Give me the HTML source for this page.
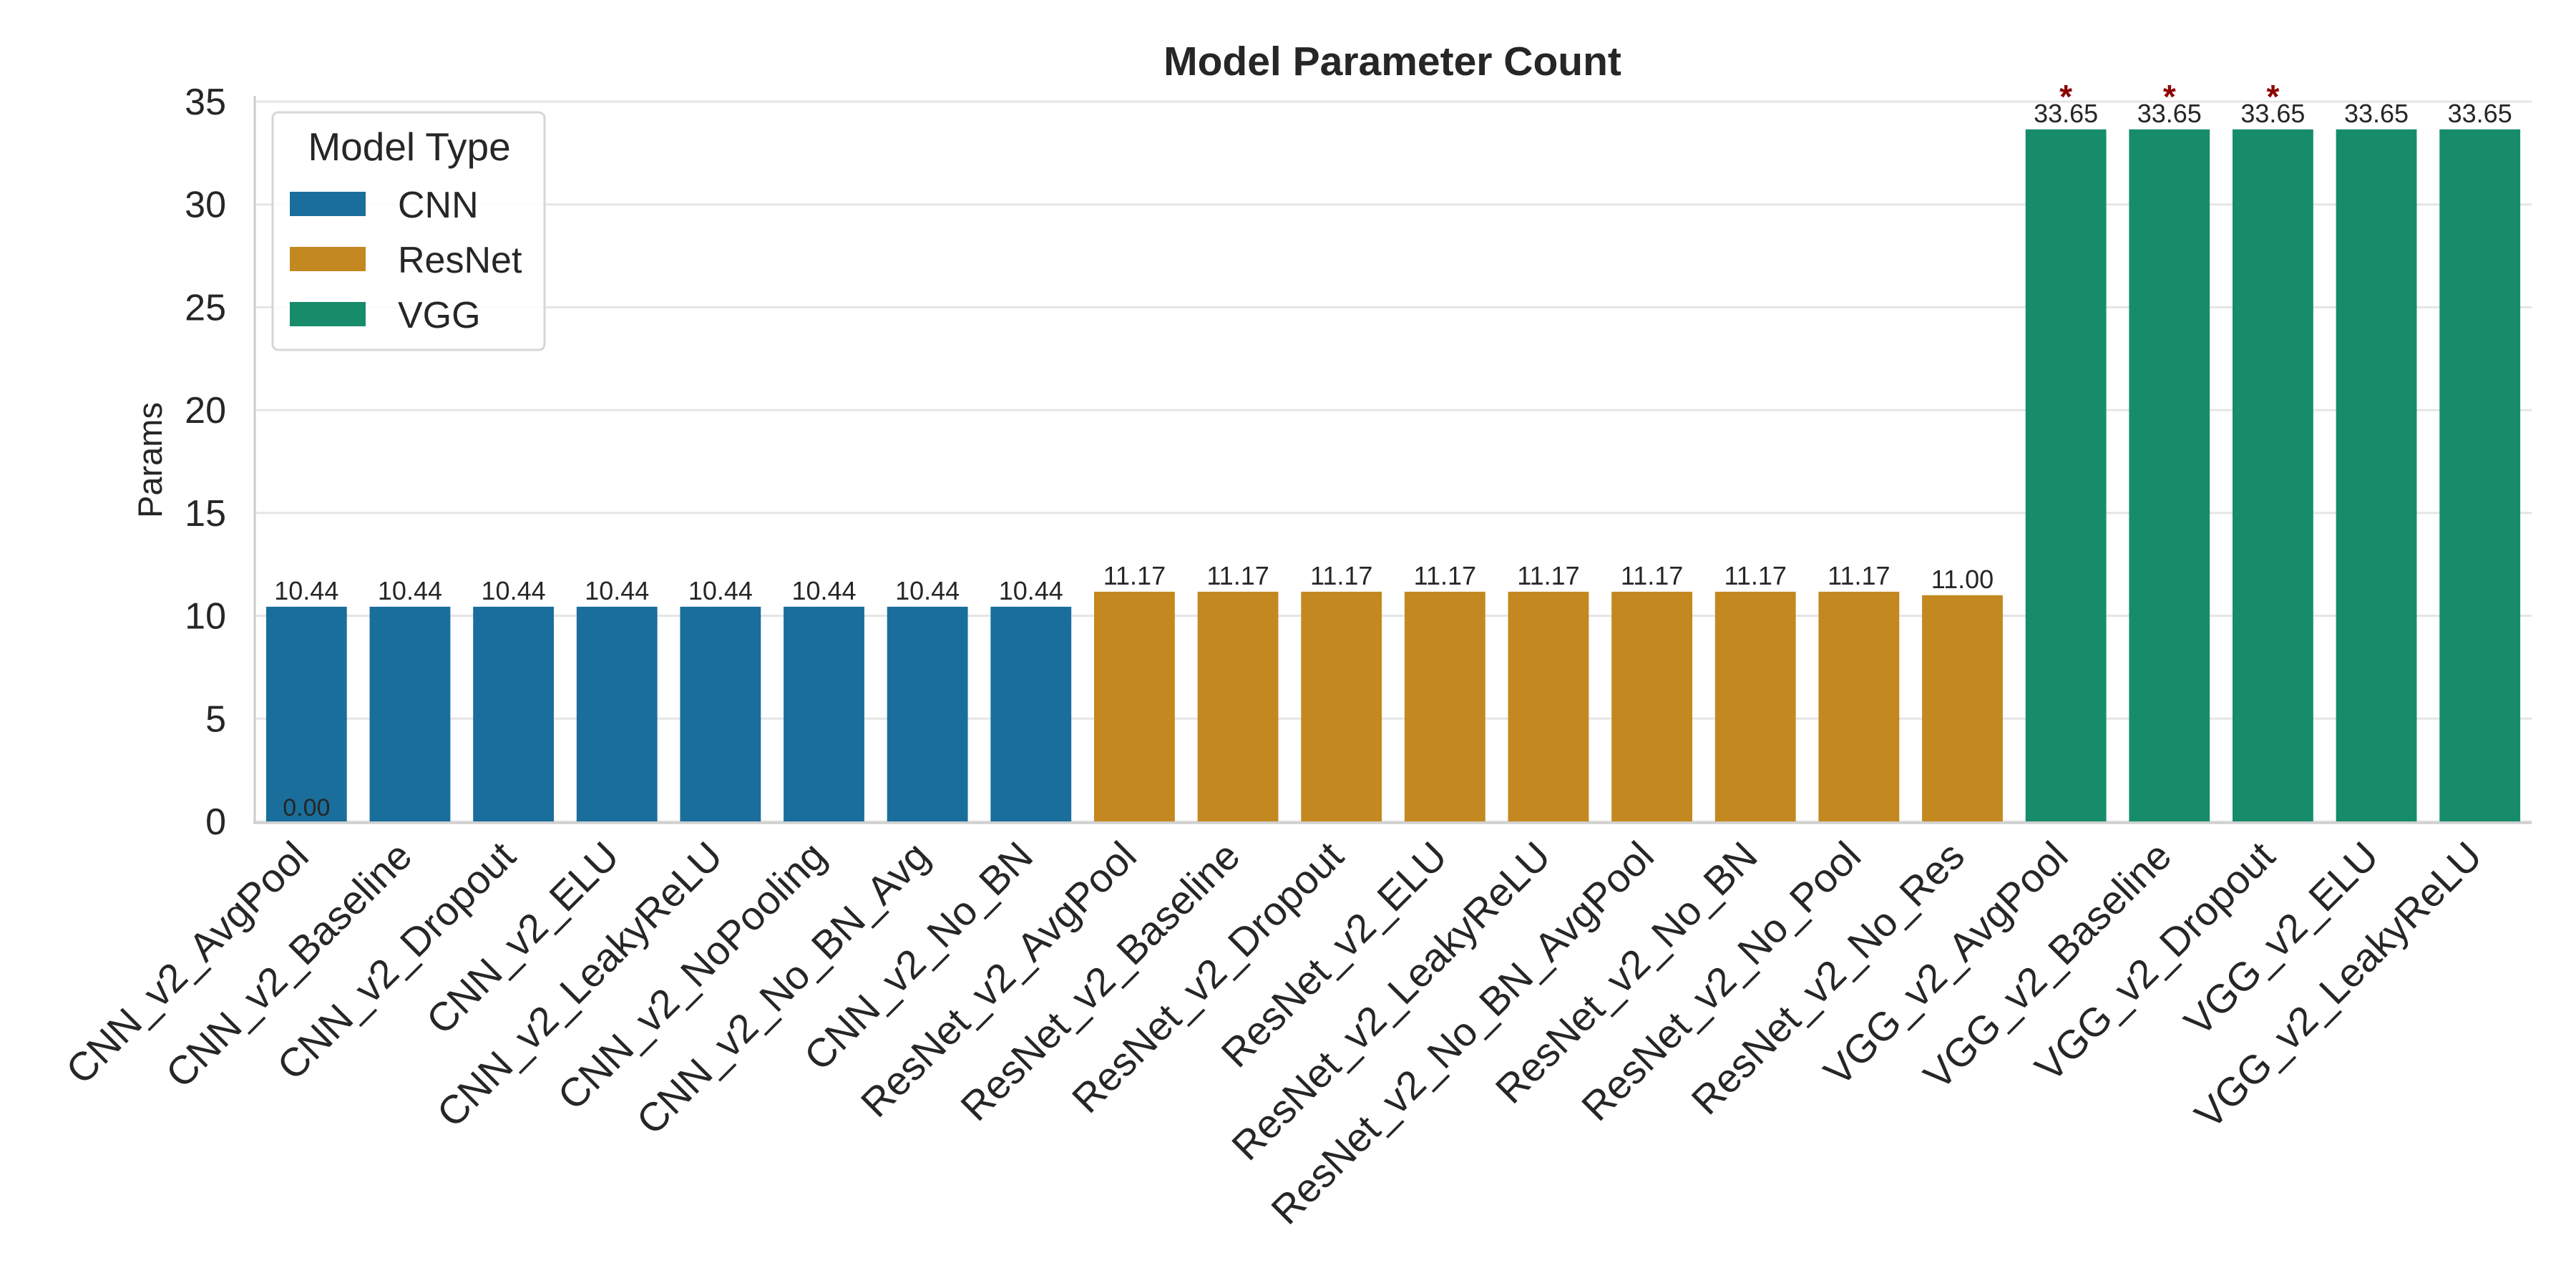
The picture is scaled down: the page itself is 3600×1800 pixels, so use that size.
<!DOCTYPE html>
<html><head><meta charset="utf-8"><style>
html,body{margin:0;padding:0;background:#fff;}
svg{display:block;font-family:"Liberation Sans",Arial,sans-serif;}
</style></head><body>
<svg id="chart" width="3600" height="1800" viewBox="0 0 3600 1800" xmlns="http://www.w3.org/2000/svg">
<rect width="3600" height="1800" fill="#fff"/>
<text x="1946" y="105" text-anchor="middle" font-size="57" font-weight="bold" fill="#262626">Model Parameter Count</text>
<text transform="translate(226,643) rotate(-90)" text-anchor="middle" font-size="47" fill="#262626">Params</text>
<g id="grid"></g><g id="bars"></g><g id="labels"></g><g id="yticks"></g><g id="xticks"></g>
<line x1="356" y1="134" x2="356" y2="1150" stroke="#cccccc" stroke-width="3"/>
<line x1="354" y1="1150" x2="3538" y2="1150" stroke="#cccccc" stroke-width="3"/>
<g>
<rect x="381" y="157" width="380" height="332" rx="8" fill="#fff" fill-opacity="0.85" stroke="#d6d6d6" stroke-width="3"/>
<text x="572" y="224" text-anchor="middle" font-size="55" fill="#262626">Model Type</text>
<rect x="405" y="268" width="106" height="34" fill="#1a6e9c"/>
<text x="556" y="304" font-size="52" fill="#262626">CNN</text>
<rect x="405" y="345" width="106" height="34" fill="#c38820"/>
<text x="556" y="381" font-size="52" fill="#262626">ResNet</text>
<rect x="405" y="422" width="106" height="34" fill="#178c6b"/>
<text x="556" y="458" font-size="52" fill="#262626">VGG</text>
</g>
</svg>
<script>
const names = ["CNN_v2_AvgPool","CNN_v2_Baseline","CNN_v2_Dropout","CNN_v2_ELU","CNN_v2_LeakyReLU","CNN_v2_NoPooling","CNN_v2_No_BN_Avg","CNN_v2_No_BN","ResNet_v2_AvgPool","ResNet_v2_Baseline","ResNet_v2_Dropout","ResNet_v2_ELU","ResNet_v2_LeakyReLU","ResNet_v2_No_BN_AvgPool","ResNet_v2_No_BN","ResNet_v2_No_Pool","ResNet_v2_No_Res","VGG_v2_AvgPool","VGG_v2_Baseline","VGG_v2_Dropout","VGG_v2_ELU","VGG_v2_LeakyReLU"];
const params = [10.44,10.44,10.44,10.44,10.44,10.44,10.44,10.44,11.17,11.17,11.17,11.17,11.17,11.17,11.17,11.17,11.00,33.65,33.65,33.65,33.65,33.65];
const types = ["CNN","CNN","CNN","CNN","CNN","CNN","CNN","CNN","ResNet","ResNet","ResNet","ResNet","ResNet","ResNet","ResNet","ResNet","ResNet","VGG","VGG","VGG","VGG","VGG"];
const starred = [0,0,0,0,0,0,0,0,0,0,0,0,0,0,0,0,0,1,1,1,0,0];
const yTicks = [0,5,10,15,20,25,30,35];
const colors = {CNN:"#1a6e9c",ResNet:"#c38820",VGG:"#178c6b"};
const NS="http://www.w3.org/2000/svg";
const n = names.length;
const X0=356,X1=3538,Y0=1148,Y35=142;
function xPos(i){return X0+(i+0.5)*(X1-X0)/n;}
function yPos(v){return Y0-(v/35)*(Y0-Y35);}
const band=(X1-X0)/n, bw=band*0.78;
function mk(tag,attrs,parent){const e=document.createElementNS(NS,tag);for(const k in attrs)e.setAttribute(k,attrs[k]);document.getElementById(parent).appendChild(e);return e;}
yTicks.forEach(t=>{
  const g=mk("line",{x1:X0,x2:X1,y1:yPos(t),y2:yPos(t),stroke:"#e5e5e5","stroke-width":3},"grid");
  
  
  const tx=mk("text",{x:316,y:yPos(t)+18,"text-anchor":"end","font-size":52,fill:"#262626"},"yticks");
  tx.textContent=t;
  
  
});
params.forEach((v,i)=>{
  const cx=xPos(i);
  const r=mk("rect",{x:cx-bw/2,y:yPos(v),width:bw,height:yPos(0)-yPos(v),fill:colors[types[i]]},"bars");
  
  
  const t=mk("text",{x:cx,y:yPos(v)-10,"text-anchor":"middle","font-size":36,fill:"#262626"},"labels");
  t.textContent=v.toFixed(2);
  
  
  if(starred[i]){
    const s=mk("text",{x:cx,y:yPos(v)-30,"text-anchor":"middle","font-size":46,"font-weight":"bold",fill:"#8b0000"},"labels");
    s.textContent="*";
    
    
  }
  const l=mk("text",{transform:`translate(${cx+6},${1200}) rotate(-45)`,"text-anchor":"end","font-size":56,fill:"#262626"},"xticks");
  l.textContent=names[i];
  
  
});
const z=mk("text",{x:xPos(0),y:1140,"text-anchor":"middle","font-size":34,fill:"#262626"},"labels");
z.textContent="0.00";


</script>
</body></html>
